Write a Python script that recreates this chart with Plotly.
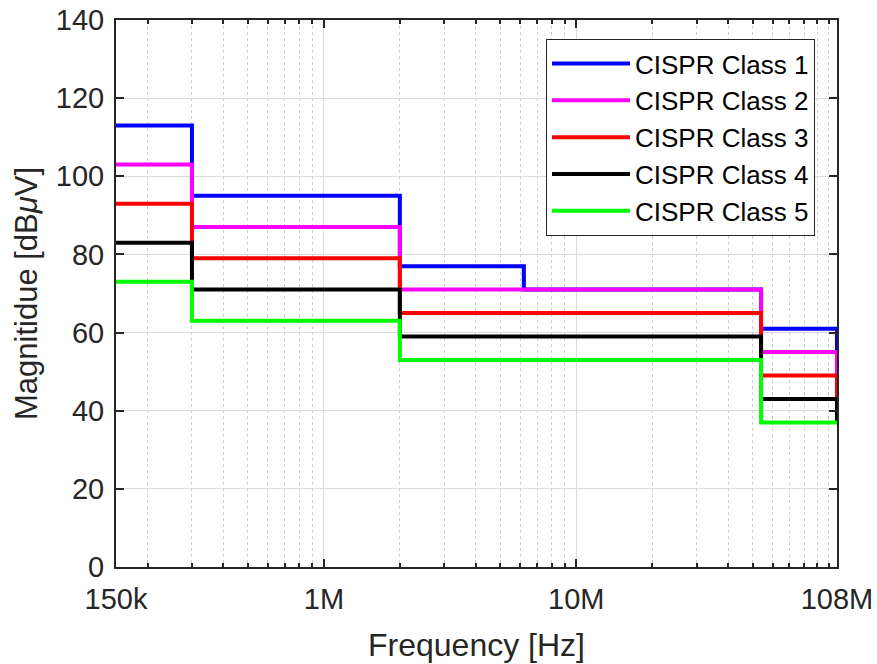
import plotly.graph_objects as go
import math

# ---- data ----
freq_class1 = [150e3, 300e3, 2e6, 6.2e6, 54e6, 108e6]
freq_common = [150e3, 300e3, 2e6, 54e6, 108e6]

class1 = [113, 95, 77, 71, 61, 55]
class2 = [103, 87, 71, 55, 49]
class3 = [93, 79, 65, 49, 43]
class4 = [83, 71, 59, 43, 37]
class5 = [73, 63, 53, 37, 37]

series_names = ["CISPR Class 1", "CISPR Class 2", "CISPR Class 3", "CISPR Class 4", "CISPR Class 5"]
series_colors = ["#0000ff", "#ff00ff", "#ff0000", "#000000", "#00ff00"]

major_tickvals = [150e3, 1e6, 1e7, 108e6]
major_ticktext = ["150k", "1M", "10M", "108M"]
minor_tickvals = [m * 10 ** e for e in (5, 6, 7) for m in range(2, 10)] + [1e8]
minor_tickvals = [v for v in minor_tickvals if 150e3 < v < 108e6]

fig = go.Figure()
xs = [freq_class1, freq_common, freq_common, freq_common, freq_common]
ys = [class1, class2, class3, class4, class5]
for name, color, x, y in zip(series_names, series_colors, xs, ys):
    fig.add_trace(go.Scatter(x=x, y=y, mode="lines", name=name,
                             line=dict(color=color, width=4, shape="hv")))

font_family = "Liberation Sans, Arial, sans-serif"
text_color = "#262626"

fig.update_layout(
    width=877, height=664,
    margin=dict(l=116, r=40, t=20, b=97),
    paper_bgcolor="white", plot_bgcolor="white",
    font=dict(family=font_family, color=text_color, size=28),
    showlegend=True,
    legend=dict(x=0.9695, y=0.965, xanchor="right", yanchor="top",
                bgcolor="white", bordercolor="#262626", borderwidth=1,
                font=dict(size=26, color="#000000"),
                itemwidth=78, tracegroupgap=0),
)

fig.update_xaxes(
    type="log", automargin=False, ticklabeloverflow="allow",
    range=[math.log10(150e3), math.log10(108e6)],
    tickmode="array", tickvals=major_tickvals, ticktext=major_ticktext,
    ticks="inside", ticklen=8, tickwidth=1.5, tickcolor="#262626",
    ticklabelstandoff=5,
    showline=True, linecolor="#262626", linewidth=2, mirror="ticks",
    showgrid=True, gridcolor="#dcdcdc", gridwidth=1,
    tickfont=dict(size=29),
    title=dict(text="Frequency [Hz]", font=dict(size=32), standoff=20),
    minor=dict(tickmode="array", tickvals=minor_tickvals, ticks="inside",
               ticklen=4, tickcolor="#262626", showgrid=True,
               gridcolor="#d0d0d0", griddash="dot", gridwidth=1),
    zeroline=False,
)
fig.update_yaxes(
    range=[0, 140], tickmode="linear", tick0=0, dtick=20,
    automargin=False, ticklabeloverflow="allow",
    ticks="inside", ticklen=8, tickwidth=1.5, tickcolor="#262626",
    ticklabelstandoff=4,
    showline=True, linecolor="#262626", linewidth=2, mirror="ticks",
    showgrid=True, gridcolor="#dcdcdc", gridwidth=1,
    tickfont=dict(size=29),
    title=dict(text="Magnitidue [dB<i>μ</i>V]", font=dict(size=31), standoff=9),
    zeroline=False,
)

fig.write_html("out.html", config={"displayModeBar": False},
               post_script="document.body.style.margin='0';")
